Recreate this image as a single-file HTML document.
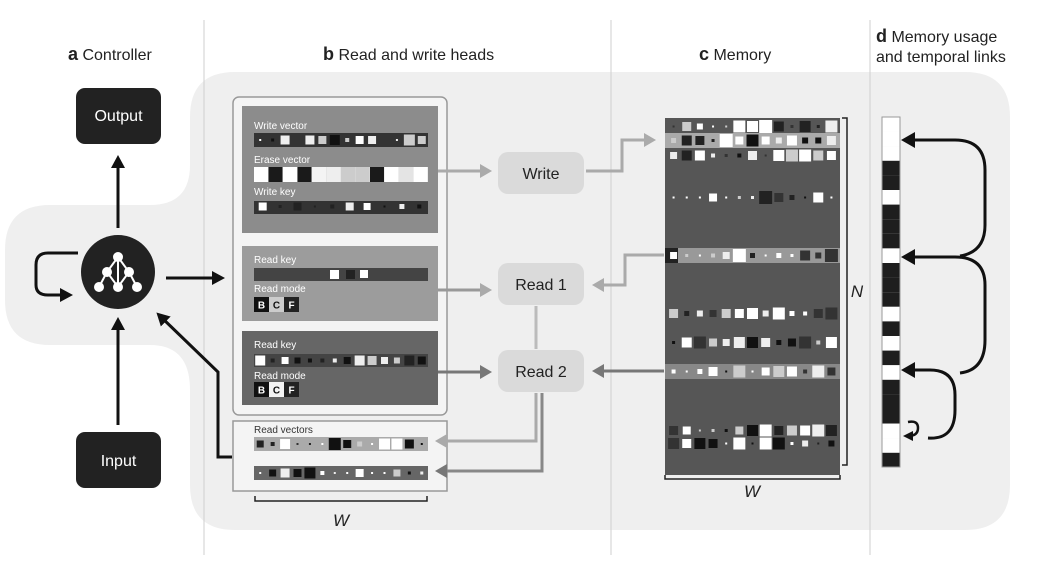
<!DOCTYPE html>
<html><head><meta charset="utf-8"><style>
html,body{margin:0;padding:0;background:#fff;}
svg{display:block;font-family:"Liberation Sans",sans-serif;}
</style></head><body>
<svg id="s" width="1044" height="575" viewBox="0 0 1044 575" xmlns="http://www.w3.org/2000/svg">
<defs>
<marker id="ab" markerWidth="14" markerHeight="14" refX="8" refY="7" orient="auto" markerUnits="userSpaceOnUse"><path d="M0,0 L13,7 L0,14 z" fill="#111"/></marker>
<marker id="ag" markerWidth="12" markerHeight="14" refX="8" refY="7" orient="auto" markerUnits="userSpaceOnUse"><path d="M0,0 L12,7 L0,14 z" fill="#aaa"/></marker>
<marker id="ad" markerWidth="12" markerHeight="14" refX="8" refY="7" orient="auto" markerUnits="userSpaceOnUse"><path d="M0,0 L12,7 L0,14 z" fill="#777"/></marker>
<marker id="ak" markerWidth="14" markerHeight="16" refX="9" refY="8" orient="auto" markerUnits="userSpaceOnUse"><path d="M0,0 L14,8 L0,16 z" fill="#111"/></marker>
<marker id="as" markerWidth="10" markerHeight="10" refX="5" refY="5" orient="auto" markerUnits="userSpaceOnUse"><path d="M0,0 L10,5 L0,10 z" fill="#111"/></marker>
</defs>
<path d="M235,72 H965 Q1010,72 1010,117 V485 Q1010,530 965,530 H235 Q190,530 190,485 V390 Q190,345 150,345 H50 Q5,345 5,300 V250 Q5,205 50,205 H150 Q190,205 190,165 V117 Q190,72 235,72 Z" fill="#efefef"/>
<line x1="204" y1="20" x2="204" y2="555" stroke="#cfcfcf" stroke-width="1"/>
<line x1="611" y1="20" x2="611" y2="555" stroke="#cfcfcf" stroke-width="1"/>
<line x1="870" y1="20" x2="870" y2="555" stroke="#cfcfcf" stroke-width="1"/>
<text x="68" y="60" font-size="16" fill="#222"><tspan font-weight="bold" font-size="18">a</tspan> Controller</text>
<text x="323" y="60" font-size="16" fill="#222"><tspan font-weight="bold" font-size="18">b</tspan> Read and write heads</text>
<text x="699" y="60" font-size="16" fill="#222"><tspan font-weight="bold" font-size="18">c</tspan> Memory</text>
<text x="876" y="42" font-size="16" fill="#222"><tspan font-weight="bold" font-size="18">d</tspan> Memory usage</text>
<text x="876" y="62" font-size="16" fill="#222">and temporal links</text>
<rect x="76" y="88" width="85" height="56" rx="9" fill="#222"/>
<text x="118.5" y="121" font-size="16" fill="#fff" text-anchor="middle">Output</text>
<rect x="76" y="432" width="85" height="56" rx="9" fill="#222"/>
<text x="118.5" y="466" font-size="16" fill="#fff" text-anchor="middle">Input</text>
<circle cx="118" cy="272" r="37" fill="#222"/>
<g stroke="#fff" stroke-width="2"><line x1="118" y1="257" x2="107" y2="272"/><line x1="118" y1="257" x2="129" y2="272"/><line x1="107" y1="272" x2="99" y2="287"/><line x1="107" y1="272" x2="118" y2="287"/><line x1="129" y1="272" x2="118" y2="287"/><line x1="129" y1="272" x2="137" y2="287"/><line x1="118" y1="257" x2="118" y2="287"/></g>
<g fill="#fff"><circle cx="118" cy="257" r="5"/><circle cx="107" cy="272" r="5"/><circle cx="129" cy="272" r="5"/><circle cx="99" cy="287" r="5"/><circle cx="118" cy="287" r="5"/><circle cx="137" cy="287" r="5"/></g>
<g stroke="#111" stroke-width="3" fill="none">
<line x1="118" y1="228" x2="118" y2="160" marker-end="url(#ab)"/>
<line x1="118" y1="425" x2="118" y2="322" marker-end="url(#ab)"/>
<path d="M78,253 H48 Q36,253 36,265 V285 Q36,295 48,295 H68" marker-end="url(#ab)"/>
<line x1="166" y1="278" x2="220" y2="278" marker-end="url(#ab)"/>
<path d="M232,457 H218 V372 L160,316" marker-end="url(#ab)"/>
</g>
<rect x="233" y="97" width="214" height="318" rx="6" fill="#f4f4f4" stroke="#999" stroke-width="1.5"/>
<rect x="242" y="106" width="196" height="127" fill="#8c8c8c"/>
<rect x="242" y="246" width="196" height="75" fill="#9c9c9c"/>
<rect x="242" y="331" width="196" height="74" fill="#666"/>
<rect x="233" y="421" width="214" height="70" fill="#f4f4f4" stroke="#999" stroke-width="1.5"/>
<g font-size="10" fill="#fff">
<text x="254" y="129">Write vector</text>
<text x="254" y="163">Erase vector</text>
<text x="254" y="195">Write key</text>
<text x="254" y="263">Read key</text>
<text x="254" y="292">Read mode</text>
<text x="254" y="348">Read key</text>
<text x="254" y="379">Read mode</text>
</g>
<text x="254" y="433" font-size="10" fill="#333">Read vectors</text>
<rect x="254" y="133" width="174" height="14" fill="#333"/>
<rect x="254" y="167" width="174" height="15" fill="#ddd"/>
<rect x="254" y="201" width="174" height="13" fill="#333"/>
<rect x="254" y="268" width="174" height="13" fill="#444"/>
<rect x="254" y="354" width="174" height="13" fill="#444"/>
<rect x="254" y="437" width="174" height="14" fill="#aaa"/>
<rect x="254" y="466" width="174" height="14" fill="#666"/>
<g id="sq"></g>
<g font-size="10" font-weight="bold" text-anchor="middle">
<rect x="254" y="297" width="15" height="15" fill="#111"/><text x="261.5" y="308.5" fill="#fff">B</text>
<rect x="269" y="297" width="15" height="15" fill="#ccc"/><text x="276.5" y="308.5" fill="#111">C</text>
<rect x="284" y="297" width="15" height="15" fill="#222"/><text x="291.5" y="308.5" fill="#fff">F</text>
<rect x="254" y="382" width="15" height="15" fill="#111"/><text x="261.5" y="393.5" fill="#fff">B</text>
<rect x="269" y="382" width="15" height="15" fill="#f4f4f4"/><text x="276.5" y="393.5" fill="#111">C</text>
<rect x="284" y="382" width="15" height="15" fill="#222"/><text x="291.5" y="393.5" fill="#fff">F</text>
</g>
<path d="M255,496 V501 H427 V496" stroke="#222" stroke-width="1.5" fill="none"/>
<text x="341" y="526" font-size="17" font-style="italic" fill="#222" text-anchor="middle">W</text>
<rect x="498" y="152" width="86" height="42" rx="10" fill="#dadada"/>
<text x="541" y="179" font-size="16" fill="#222" text-anchor="middle">Write</text>
<rect x="498" y="263" width="86" height="42" rx="10" fill="#dadada"/>
<text x="541" y="290" font-size="16" fill="#222" text-anchor="middle">Read 1</text>
<rect x="498" y="350" width="86" height="42" rx="10" fill="#dadada"/>
<text x="541" y="377" font-size="16" fill="#222" text-anchor="middle">Read 2</text>
<g fill="none" stroke-width="3">
<line x1="438" y1="171" x2="488" y2="171" stroke="#aaa" marker-end="url(#ag)"/>
<line x1="438" y1="290" x2="488" y2="290" stroke="#999" marker-end="url(#ag)"/>
<line x1="438" y1="372" x2="488" y2="372" stroke="#777" marker-end="url(#ad)"/>
<line x1="536" y1="306" x2="536" y2="349" stroke="#bbb"/>
<path d="M586,171 H622 V140 H652" stroke="#aaa" marker-end="url(#ag)"/>
<path d="M664,255 H625 V285 H596" stroke="#aaa" marker-end="url(#ag)"/>
<line x1="664" y1="371" x2="596" y2="371" stroke="#777" marker-end="url(#ad)"/>
<path d="M536,393 V441 H439" stroke="#aaa" marker-end="url(#ag)"/>
<path d="M542,393 V471 H439" stroke="#888" marker-end="url(#ad)"/>
</g>
<rect x="665" y="118" width="175" height="357" fill="#565656"/>
<rect x="665" y="133" width="175" height="15" fill="#aaa"/>
<rect x="665" y="248" width="13" height="15" fill="#222"/>
<rect x="678" y="248" width="162" height="15" fill="#999"/>
<rect x="665" y="364" width="175" height="15" fill="#888"/>
<g id="ms"></g>
<path d="M842,118 H847 V465 H842" stroke="#222" stroke-width="1.5" fill="none"/>
<text x="857" y="297" font-size="17" font-style="italic" fill="#222" text-anchor="middle">N</text>
<path d="M665,475 V479 H840 V475" stroke="#222" stroke-width="1.5" fill="none"/>
<text x="752" y="497" font-size="17" font-style="italic" fill="#222" text-anchor="middle">W</text>
<g id="us"></g>
<g fill="none" stroke="#111" stroke-width="3">
<path d="M960,256 Q985,252 985,225 V170 Q985,140 955,140 H906" marker-end="url(#ak)"/>
<path d="M960,373 Q985,370 985,340 V285 Q985,257 955,257 H906" marker-end="url(#ak)"/>
<path d="M928,438 Q955,440 955,410 V395 Q955,370 930,370 H906" marker-end="url(#ak)"/>
<path d="M908,422 Q918,420 918,428 Q918,436 908,436" stroke-width="2.5" marker-end="url(#as)"/>
</g>
</svg>
<script>
(function(){
var ns="http://www.w3.org/2000/svg";
function R(g,x,y,w,h,f){var r=document.createElementNS(ns,"rect");r.setAttribute("x",x);r.setAttribute("y",y);r.setAttribute("width",w);r.setAttribute("height",h);r.setAttribute("fill",f);g.appendChild(r);}
var seed=7;function rnd(){seed=(seed*16807)%2147483647;return seed/2147483647;}
var sq=document.getElementById("sq"),ms=document.getElementById("ms");
var cols=["#fff","#111","#222","#eee","#ccc","#333","#fff"];
function row(g,y,h,x0,x1,n){var step=(x1-x0)/n;for(var i=0;i<n;i++){var s=Math.max(2,Math.round(rnd()*h));var c=cols[Math.floor(rnd()*cols.length)];R(g,x0+i*step+(step-s)/2,y+(h-s)/2,s,s,c);}}
row(sq,134,12,254,428,14);row(sq,202,9,254,428,10);row(sq,355,11,254,428,14);row(sq,438,12,254,428,14);row(sq,467,12,254,428,14);
var er=["#fff","#1a1a1a","#fff","#1a1a1a","#f4f4f4","#eee","#ccc","#ccc","#1a1a1a","#fff","#e4e4e4","#fff"];
for(var i=0;i<12;i++)R(sq,254+i*14.5,167,14,15,er[i]);
R(sq,330,270,9,9,"#fff");R(sq,346,270,9,9,"#222");R(sq,360,270,8,8,"#fff");
var ys=[120,134,149,191,249,307,336,365,424,437];
for(var k=0;k<ys.length;k++){row(ms,ys[k],13,667,838,13);}
var us=document.getElementById("us");
var p="WWWBBWBBBWBBBWBWBWBBBWWB";
for(var j=0;j<24;j++)R(us,882,117+j*14.6,18,14.6,p[j]=="W"?"#fff":"#1e1e1e");
var b=document.createElementNS(ns,"rect");b.setAttribute("x",882);b.setAttribute("y",117);b.setAttribute("width",18);b.setAttribute("height",350);b.setAttribute("fill","none");b.setAttribute("stroke","#999");us.appendChild(b);
})();
</script>
</body></html>
